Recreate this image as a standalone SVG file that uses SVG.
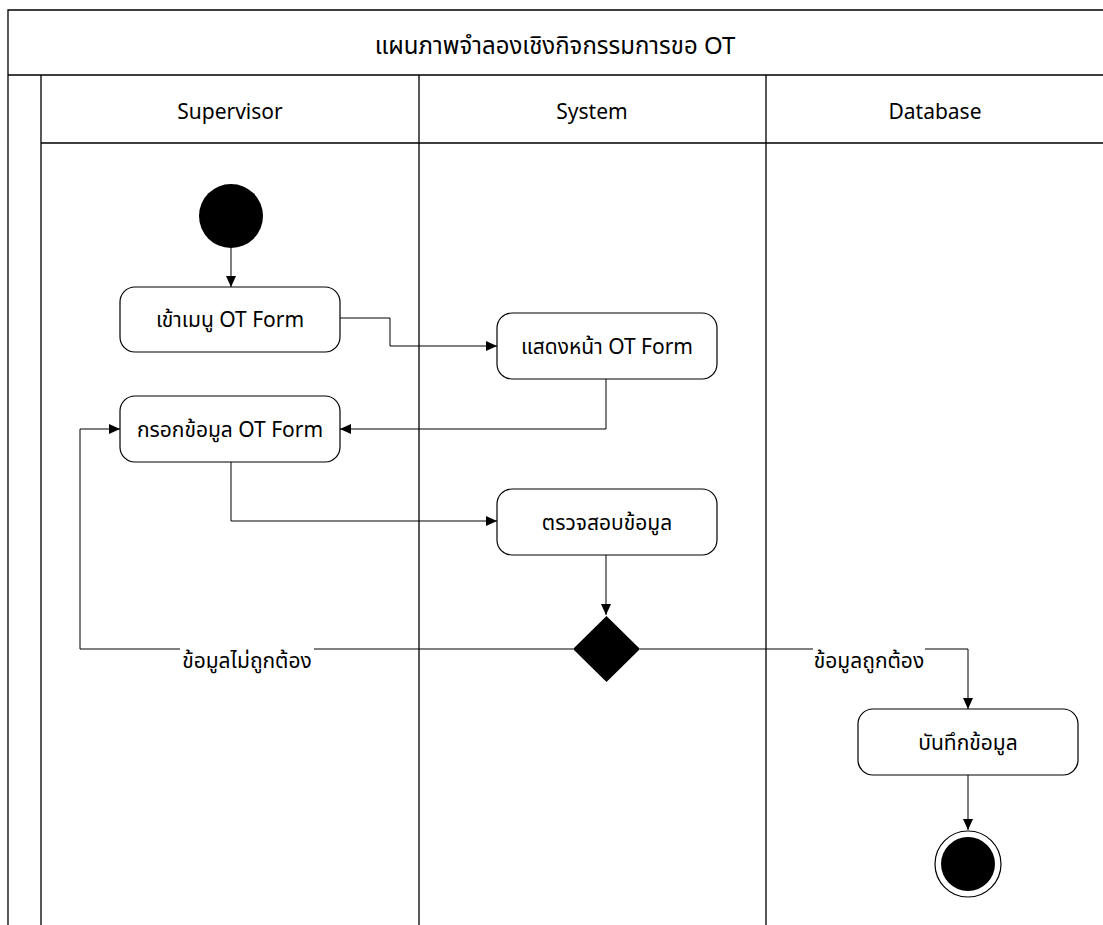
<svg xmlns="http://www.w3.org/2000/svg" width="1103" height="925" viewBox="0 0 1103 925">
<style>
.frame{fill:none;stroke:#000;stroke-width:1.3}
.node rect{fill:#fff;stroke:#000;stroke-width:1.2}
text{font-family:"Noto Sans","Noto Sans Thai","Liberation Sans",sans-serif;font-size:21px;fill:#000;text-anchor:middle;dominant-baseline:central}
.conn{fill:none;stroke:#000;stroke-width:1}
.lbl{fill:#fff;stroke:none}
</style>
<defs>
<marker id="arr" markerWidth="12" markerHeight="10" refX="11" refY="5" orient="auto" markerUnits="userSpaceOnUse">
<path d="M0,0 L11,5 L0,10 Z" fill="#000"/>
</marker>
</defs>
<rect width="1103" height="925" fill="#fff"/>
<g id="pool">
<path class="frame" d="M8,935 V10 H1110 M8,75 H1110 M41,75 V935 M41,143 H1110 M419,75 V935 M766,75 V935"/>
<text x="555" y="44" style="font-size:24px">แผนภาพจำลองเชิงกิจกรรมการขอ OT</text>
<text x="230" y="111">Supervisor</text>
<text x="592" y="111">System</text>
<text x="935" y="111">Database</text>
</g>
<g id="connectors">
<path class="conn" d="M231,248 V287" marker-end="url(#arr)"/>
<path class="conn" d="M340,318 H390 V346 H497" marker-end="url(#arr)"/>
<path class="conn" d="M606,379 V429 H340" marker-end="url(#arr)"/>
<path class="conn" d="M231,462 V521 H497" marker-end="url(#arr)"/>
<path class="conn" d="M606,555 V615" marker-end="url(#arr)"/>
<path class="conn" d="M573,649 H80 V429 H120" marker-end="url(#arr)"/>
<path class="conn" d="M640,649 H968 V709" marker-end="url(#arr)"/>
<path class="conn" d="M968,775 V830" marker-end="url(#arr)"/>
<rect class="lbl" x="180" y="645" width="134" height="32"/>
<text x="247" y="660">ข้อมูลไม่ถูกต้อง</text>
<rect class="lbl" x="813" y="645" width="112" height="32"/>
<text x="869" y="660">ข้อมูลถูกต้อง</text>
</g>
<g id="start"><circle cx="231" cy="216" r="32" fill="#000"/></g>
<g id="n1" class="node"><rect x="120" y="287" width="220" height="65" rx="15"/><text x="230" y="319">เข้าเมนู OT Form</text></g>
<g id="n2" class="node"><rect x="497" y="313" width="220" height="66" rx="15"/><text x="607" y="346">แสดงหน้า OT Form</text></g>
<g id="n3" class="node"><rect x="120" y="396" width="220" height="66" rx="15"/><text x="230" y="429">กรอกข้อมูล OT Form</text></g>
<g id="n4" class="node"><rect x="497" y="489" width="220" height="66" rx="15"/><text x="607" y="522">ตรวจสอบข้อมูล</text></g>
<g id="decision"><path d="M606.5,616 L640,649 L606.5,682 L573,649 Z" fill="#000"/></g>
<g id="n5" class="node"><rect x="858" y="709" width="220" height="66" rx="15"/><text x="968" y="742">บันทึกข้อมูล</text></g>
<g id="end"><circle cx="968" cy="864" r="33" fill="#fff" stroke="#000" stroke-width="1.2"/><circle cx="968" cy="864" r="27" fill="#000"/></g>
</svg>
